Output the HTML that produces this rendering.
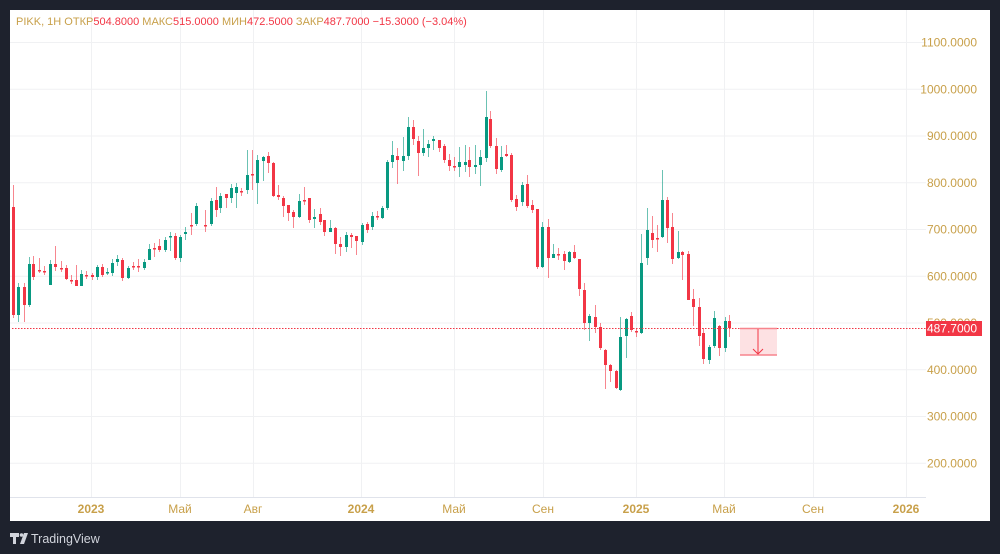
<!DOCTYPE html>
<html><head><meta charset="utf-8">
<style>
html,body{margin:0;padding:0;width:1000px;height:554px;background:#1e222d;overflow:hidden;font-family:"Liberation Sans",sans-serif}
svg{position:absolute;left:0;top:0}
</style></head><body>
<svg id="c" width="1000" height="554" xmlns="http://www.w3.org/2000/svg">
<rect x="10" y="10" width="980" height="511" fill="#ffffff"/>
<g id="grid" stroke="#f0f1f3" stroke-width="1"></g>
<line x1="10" y1="497.5" x2="926" y2="497.5" stroke="#e0e3eb"/>
<g id="candles"></g>
<line x1="12" y1="328.5" x2="926" y2="328.5" stroke="#f23645" stroke-width="1" stroke-dasharray="1.5,1.5"/>
<rect x="740" y="328" width="37" height="27" fill="#f23645" fill-opacity="0.15"/>
<line x1="740" y1="328.5" x2="777" y2="328.5" stroke="#f7848d" stroke-width="1.5"/>
<line x1="740" y1="355" x2="777" y2="355" stroke="#f7848d" stroke-width="1.5"/>
<line x1="758" y1="329" x2="758" y2="354" stroke="#f23645"/>
<polyline points="753,349 758,354 763,349" fill="none" stroke="#f23645"/>
<g id="labels" font-size="12" fill="#c8a04a"></g>
<rect x="926" y="321" width="56" height="15" fill="#f23645"/>
<text x="977" y="332.5" font-size="12" fill="#fff" text-anchor="end">487.7000</text>
<text x="16" y="25" font-size="11" fill="#c8a04a">PIKK, 1H  ОТКР<tspan fill="#f23645">504.8000</tspan>  МАКС<tspan fill="#f23645">515.0000</tspan>  МИН<tspan fill="#f23645">472.5000</tspan>  ЗАКР<tspan fill="#f23645">487.7000</tspan>  <tspan fill="#f23645">−15.3000 (−3.04%)</tspan></text>
<g fill="#d1d4dc"><path d="M10 533h9v4h-3v7h-3v-7h-3z"/><circle cx="21.5" cy="535" r="1.8"/><path d="M24 533h4l-4 11h-4z"/></g>
<text x="31" y="543" font-size="12.5" fill="#d1d4dc">TradingView</text>
</svg>
<script>
var g=document.getElementById('grid'),L=document.getElementById('labels'),C=document.getElementById('candles');
var ns='http://www.w3.org/2000/svg';
function el(p,t,a,txt){var e=document.createElementNS(ns,t);for(var k in a)e.setAttribute(k,a[k]);if(txt)e.textContent=txt;p.appendChild(e);return e;}
for(var i=0;i<10;i++){var y=42.5+i*46.75;el(g,'line',{x1:10,x2:926,y1:y,y2:y});el(L,'text',{x:977,y:y+4,'text-anchor':'end'},(1100-i*100)+'.0000');}
var vx=[[91,'2023',1],[180,'Май'],[253,'Авг'],[361,'2024',1],[454,'Май'],[543,'Сен'],[636,'2025',1],[724,'Май'],[813,'Сен'],[906,'2026',1]];
vx.forEach(function(v){el(g,'line',{x1:v[0]+.5,x2:v[0]+.5,y1:10,y2:497});el(L,'text',{x:v[0],y:513,'text-anchor':'middle','font-weight':v[2]?'bold':'normal'},v[1]);});
var d=[[13,207,315,185,318],[18,315,287,283,322],[24,287,305,283,322],[29,305,264,257,307],[33,264,277,256,280],[39,270,271,258,273],[44,271,271,266,275],[50,285,264,260,285],[55,264,267,246,271],[61,268,268,261,272],[66,268,279,265,280],[71,280,280,275,284],[76,280,286,265,286],[81,286,274,270,286],[86,275,275,271,279],[92,275,277,273,280],[97,277,267,265,280],[102,267,275,264,277],[107,273,272,268,275],[112,273,263,259,276],[117,262,259,255,266],[122,260,278,258,281],[128,278,268,266,279],[133,266,266,262,270],[138,266,267,259,272],[144,268,262,259,270],[149,260,249,244,257],[154,248,248,243,257],[159,246,250,239,252],[165,250,240,237,252],[170,237,236,232,251],[175,236,258,233,260],[180,258,237,235,262],[185,234,232,227,240],[191,225,225,213,235],[196,224,206,203,226],[205,225,225,210,232],[211,224,201,198,226],[216,200,210,187,217],[220,208,196,193,213],[226,194,198,194,208],[231,198,188,184,203],[236,193,187,183,208],[241,191,191,188,196],[247,190,175,150,194],[252,174,174,150,190],[257,183,160,155,204],[263,161,157,156,181],[268,156,163,152,173],[273,163,196,162,197],[278,195,197,185,200],[283,198,206,196,217],[288,205,213,205,221],[293,212,217,210,228],[299,217,201,194,218],[304,200,200,187,205],[309,198,220,198,223],[314,219,217,209,228],[320,214,222,208,225],[324,220,232,220,236],[330,232,228,220,232],[335,228,244,227,254],[340,244,247,237,256],[346,247,235,232,252],[351,235,237,233,248],[356,236,241,236,255],[362,242,225,223,245],[367,224,230,222,233],[372,227,216,212,230],[377,216,216,211,220],[382,218,208,206,219],[387,208,162,160,210],[392,162,155,141,168],[397,156,160,148,184],[403,161,156,137,171],[408,156,127,117,160],[413,127,139,120,145],[418,141,153,136,176],[423,153,148,129,156],[428,148,144,140,157],[433,141,139,136,150],[439,140,148,140,152],[444,146,160,144,163],[449,160,166,154,171],[454,166,166,157,171],[459,167,162,147,177],[465,165,162,145,172],[469,160,167,147,177],[475,167,165,145,174],[480,165,157,150,186],[486,158,117,91,162],[490,119,146,111,148],[496,146,169,138,174],[501,170,157,146,172],[506,154,156,145,157],[511,155,200,153,202],[516,199,207,195,211],[522,202,185,182,206],[527,184,206,175,208],[532,205,210,200,213],[537,209,267,209,269],[542,267,227,222,268],[548,227,258,219,278],[553,258,254,244,258],[558,254,254,248,260],[564,254,261,251,270],[569,262,252,251,263],[574,252,258,245,259],[579,259,289,259,296],[584,290,323,283,330],[589,323,316,314,341],[595,317,327,305,333],[600,327,348,323,350],[605,350,365,349,389],[610,365,371,364,382],[616,371,388,370,389],[620,390,337,317,391],[626,336,319,318,358],[631,316,330,312,332],[636,331,331,328,337],[641,333,263,234,334],[647,258,230,208,265],[652,233,240,216,248],[657,238,238,225,252],[662,237,200,170,238],[667,200,228,197,243],[672,227,259,213,264],[678,258,252,231,259],[682,252,255,251,280],[688,254,300,251,300],[693,299,307,289,326],[699,307,336,298,346],[703,333,359,328,364],[709,360,347,345,364],[714,346,318,311,348],[719,326,348,325,356],[725,348,321,317,352],[729,321,328,315,337]];
d.forEach(function(c){var up=c[2]<c[1],col=up?'#089981':'#f23645';var x=c[0];
el(C,'line',{x1:x+.5,x2:x+.5,y1:c[3],y2:c[4],stroke:col,'stroke-opacity':0.6,'stroke-width':1});
var t=Math.min(c[1],c[2]),h=Math.max(1.5,Math.abs(c[2]-c[1]));el(C,'rect',{x:x-1,y:t,width:3,height:h,fill:col});});
</script>
</body></html>
